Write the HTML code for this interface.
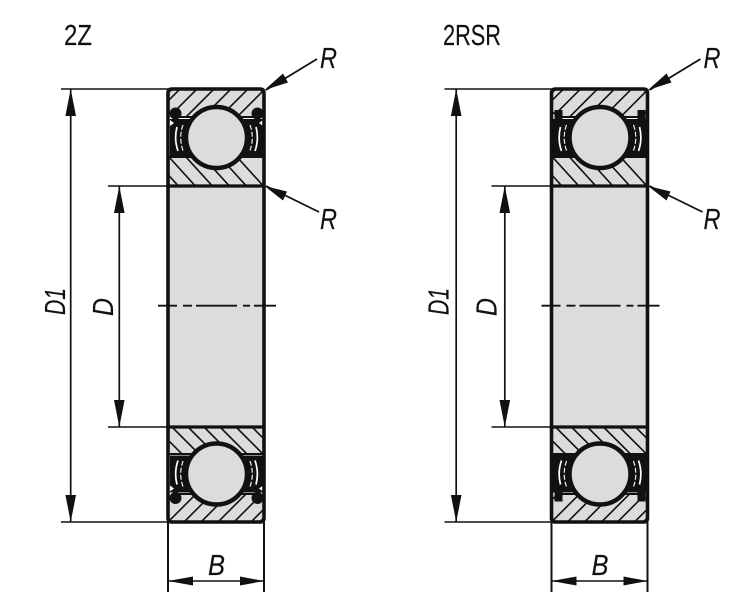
<!DOCTYPE html>
<html>
<head>
<meta charset="utf-8">
<style>
html,body{margin:0;padding:0;background:#fff;width:750px;height:614px;overflow:hidden}
svg{display:block}
text{font-family:"Liberation Sans",sans-serif;fill:#111;stroke:#111;stroke-width:.15}
</style>
</head>
<body>
<svg width="750" height="614" viewBox="0 0 750 614" xmlns="http://www.w3.org/2000/svg">
<defs>
<clipPath id="c1"><path d="M172 89H260L264 93V112L255 117H240A31 31 0 0 0 193 117H178L168 112V93Z"/></clipPath>
<clipPath id="c2"><path d="M168 157H193A31 31 0 0 0 240 157H264V186H168Z"/></clipPath>
<clipPath id="c3"><path d="M172 522H260L264 518V499L255 494H240A31 31 0 0 1 193 494H178L168 499V518Z"/></clipPath>
<clipPath id="c4"><path d="M168 454H193A31 31 0 0 1 240 454H264V424H168Z"/></clipPath>

<g id="rings">
  <path d="M172 89H260L264 93V112L255 117H240A31 31 0 0 0 193 117H178L168 112V93Z" fill="#dcdcdc" stroke="#111" stroke-width="2"/>
  <path d="M168 157H193A31 31 0 0 0 240 157H264V186H168Z" fill="#dcdcdc" stroke="#111" stroke-width="2"/>
  <path d="M172 522H260L264 518V499L255 494H240A31 31 0 0 1 193 494H178L168 499V518Z" fill="#dcdcdc" stroke="#111" stroke-width="2"/>
  <path d="M168 454H193A31 31 0 0 1 240 454H264V424H168Z" fill="#dcdcdc" stroke="#111" stroke-width="2"/>
  <g clip-path="url(#c1)" stroke="#111" stroke-width="1.6" fill="none">
    <path d="M184 85L144 125M201 85L161 125M218 85L178 125M235 85L195 125M252 85L212 125M269 85L229 125"/>
  </g>
  <g clip-path="url(#c2)" stroke="#111" stroke-width="1.6" fill="none">
    <path d="M182 190L142 146M199 190L159 146M216 190L176 146M233 190L193 146M250 190L210 146M267 190L227 146"/>
  </g>
  <g clip-path="url(#c3)" stroke="#111" stroke-width="1.6" fill="none">
    <path d="M164 526L208 482M180 526L224 482M197 526L241 482M214 526L258 482M230 526L274 482M247 526L291 482"/>
  </g>
  <g clip-path="url(#c4)" stroke="#111" stroke-width="1.6" fill="none">
    <path d="M152 424L192 464M169 424L209 464M185 424L225 464M201 424L241 464M217 424L257 464M233 424L273 464M249 424L289 464"/>
  </g>
</g>

<g id="arcs" fill="none">
  <path d="M177 127A41 41 0 0 0 178 151M256 127A41 41 0 0 1 255 151" stroke="#fff" stroke-width="1.7"/>
  <path d="M183 125A36 36 0 0 0 183.7 152M250 125A36 36 0 0 1 249.3 152" stroke="#fff" stroke-width="1.1" stroke-dasharray="5 2"/>
</g>

<g id="ball">
  <circle cx="216.5" cy="137.5" r="30.5" fill="#dcdcdc" stroke="#111" stroke-width="4.5"/>
</g>

<g id="top2z">
  <path d="M170 119H198V156H170ZM235 119H263V156H235Z" fill="#111"/>
  <circle cx="175.5" cy="113.5" r="6" fill="#111"/>
  <circle cx="257.5" cy="113.5" r="6" fill="#111"/>
  <path d="M170 120L174 123L170 126ZM263 120L259 123L263 126Z" fill="#fff"/>
  <use href="#arcs"/>
  <use href="#ball"/>
</g>
<g id="toprs">
  <path d="M168 119H198V157H168ZM235 119H265V157H235Z" fill="#111"/>
  <path d="M171 110H179V120H171ZM254 110H262V120H254Z" fill="#111"/>
  <use href="#arcs"/>
  <use href="#ball"/>
</g>

<g id="frame">
  <rect x="168" y="186" width="96" height="241" fill="#dcdcdc"/>
  <path d="M172 89H260Q264 89 264 93V518Q264 522 260 522H172Q168 522 168 518V93Q168 89 172 89Z" fill="none" stroke="#111" stroke-width="3.6"/>
  <path d="M168 186H264M168 427H264" stroke="#111" stroke-width="3.2" fill="none"/>
  <path d="M158 305.7H177M183 305.7H192M196 305.7H237M243 305.7H250M254 305.7H276" stroke="#111" stroke-width="1.8" fill="none"/>
  <path d="M61 89H168M61 522H168M108 186H168M108 427H168" stroke="#111" stroke-width="1.6" fill="none"/>
  <path d="M168 522V592M264 522V592" stroke="#111" stroke-width="2" fill="none"/>
  <path d="M168 581H264" stroke="#111" stroke-width="1.6" fill="none"/>
  <path d="M168 581L193 576.5V585.5ZM264 581L240 576.5V585.5Z" fill="#111"/>
  <text x="208" y="575" font-size="29" font-style="italic" textLength="17" lengthAdjust="spacingAndGlyphs">B</text>
  <text transform="translate(65 315) rotate(-90)" font-size="29" font-style="italic" textLength="27" lengthAdjust="spacingAndGlyphs">D1</text>
  <text transform="translate(113 316) rotate(-90)" font-size="29" font-style="italic" textLength="18" lengthAdjust="spacingAndGlyphs">D</text>
  <path d="M266 90L317 59M266 186L319 212" stroke="#111" stroke-width="1.8" fill="none"/>
  <path d="M264.5 90L283 73.5L288 82.5ZM264.5 186L287 191.5L283 200.5Z" fill="#111"/>
  <text x="320" y="68" font-size="29" font-style="italic" textLength="17" lengthAdjust="spacingAndGlyphs">R</text>
  <text x="320" y="229" font-size="29" font-style="italic" textLength="17" lengthAdjust="spacingAndGlyphs">R</text>
</g>

<g id="dims">
  <path d="M70.7 89V522M119.3 186V427" stroke="#111" stroke-width="1.7" fill="none"/>
  <path d="M70.7 89L76 116H65.4ZM70.7 522L76 495H65.4ZM119.3 186L124.6 213H114ZM119.3 427L124.6 400H114Z" fill="#111"/>
</g>
</defs>

<rect width="750" height="614" fill="#fff"/>

<!-- left bearing -->
<use href="#rings"/>
<use href="#top2z"/>
<use href="#top2z" transform="translate(0 611.5) scale(1 -1)"/>
<use href="#frame"/>
<use href="#dims"/>
<text x="64" y="45" font-size="29" textLength="28" lengthAdjust="spacingAndGlyphs">2Z</text>

<!-- right bearing -->
<g transform="translate(383.5 0)">
  <use href="#rings"/>
  <use href="#toprs"/>
  <use href="#toprs" transform="translate(0 611.5) scale(1 -1)"/>
  <use href="#frame"/>
</g>
<use href="#dims" transform="translate(385.5 0)"/>
<text x="443" y="45" font-size="29" textLength="58" lengthAdjust="spacingAndGlyphs">2RSR</text>
</svg>
</body>
</html>
